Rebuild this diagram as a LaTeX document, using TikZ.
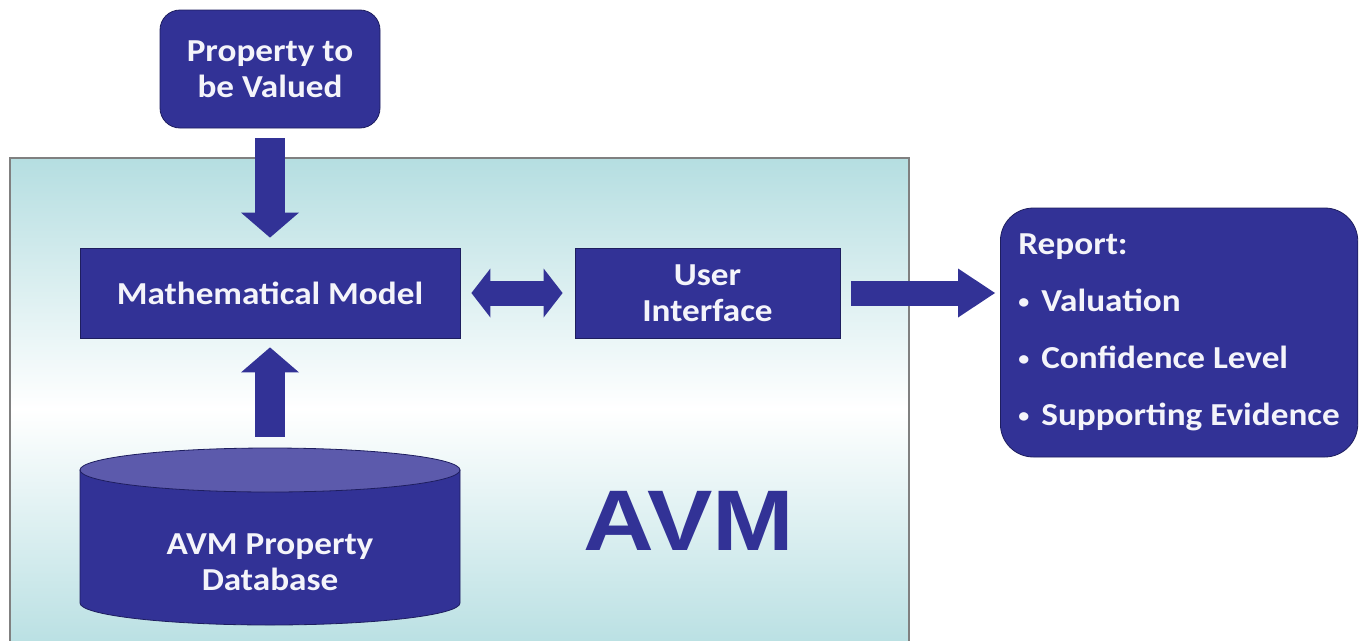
\documentclass[tikz,border=0pt]{standalone}
\usepackage{fontspec}
\setmainfont{Carlito}[FakeStretch=1.1]
\newfontfamily\avmfont{Liberation Sans}[FakeStretch=1.14]
\usetikzlibrary{arrows.meta,positioning,calc}

\definecolor{avmnavy}{RGB}{50,50,150}
\definecolor{avmedge}{RGB}{30,30,95}
\definecolor{avmtop}{RGB}{92,90,172}
\definecolor{avmteal}{RGB}{181,222,225}
\definecolor{avmtext}{RGB}{244,244,250}

\newcommand\repbullet{{\fontsize{20}{20}\selectfont\raisebox{3pt}{\textbullet}}\hspace{12pt}}

\tikzset{
  blockbox/.style={draw=avmedge, line width=0.8pt, fill=avmnavy, text=avmtext,
    font=\fontsize{32}{36}\selectfont\bfseries, align=center, inner sep=0pt},
  roundbox/.style={blockbox, rounded corners=20pt},
  panel/.style={draw=gray, line width=2pt, top color=avmteal, bottom color=avmteal,
    middle color=white, inner sep=0pt},
  bigarrow/.style={avmnavy, line width=#1},
  tipA/.tip={Triangle[length=25pt, width=58pt, line width=0pt]},
  tipB/.tip={Triangle[length=19pt, width=49pt, line width=0pt]},
  tipC/.tip={Triangle[length=37pt, width=49pt, line width=0pt]}
}

\begin{document}
\begin{tikzpicture}[x=1pt, y=-1pt]
  \path[use as bounding box, fill=white] (0,0) rectangle (1360,640);

  % AVM panel
  \node[panel, minimum width=899pt, minimum height=502pt] (avm) at (459.5,409) {};
  \node[font=\avmfont\bfseries\fontsize{86}{86}\selectfont, text=avmnavy, inner sep=0pt] (avmlabel) at (689,521) {AVM};

  % input and blocks
  \node[roundbox, minimum width=220pt, minimum height=118pt] (prop) at (270,69) {Property to\\be Valued};
  \node[blockbox, minimum width=380pt, minimum height=90pt] (math) at (270,293) {Mathematical Model};
  \node[blockbox, minimum width=265pt, minimum height=90pt] (ui) at (707.5,293) {User\\Interface};

  % database cylinder
  \fill[avmnavy, draw=avmedge, line width=0.8pt] (80,470) -- (80,603)
    arc[start angle=180, end angle=0, x radius=190, y radius=22] -- (460,470) -- cycle;
  \filldraw[fill=avmtop, draw=avmedge, line width=0.8pt] (270,470) ellipse[x radius=190, y radius=22];
  \node[text=avmtext, font=\fontsize{32}{36}\selectfont\bfseries, align=center,
    minimum width=380pt, minimum height=228pt, inner sep=0pt] (db) at (270,562) {AVM Property\\Database};

  % report
  \node[roundbox, rounded corners=33pt, align=left, anchor=west, inner xsep=18pt,
    minimum height=249pt, font=\fontsize{32}{57}\selectfont\bfseries] (report) at (1000,332.5)
    {Report:\\\repbullet Valuation\\\repbullet Confidence Level\\\repbullet Supporting Evidence};

  % arrows
  \draw[bigarrow=30pt, -tipA, shorten <=10pt, shorten >=10pt] (prop) -- (math);
  \draw[bigarrow=30pt, -tipA, shorten <=11pt, shorten >=9pt] (db) -- (math);
  \draw[bigarrow=25pt, tipB-tipB, shorten <=11pt, shorten >=12pt] (math) -- (ui);
  \draw[bigarrow=25pt, -tipC, shorten <=11pt, shorten >=5pt] (ui.east) -- (ui.east -| report.west);
\end{tikzpicture}
\end{document}
